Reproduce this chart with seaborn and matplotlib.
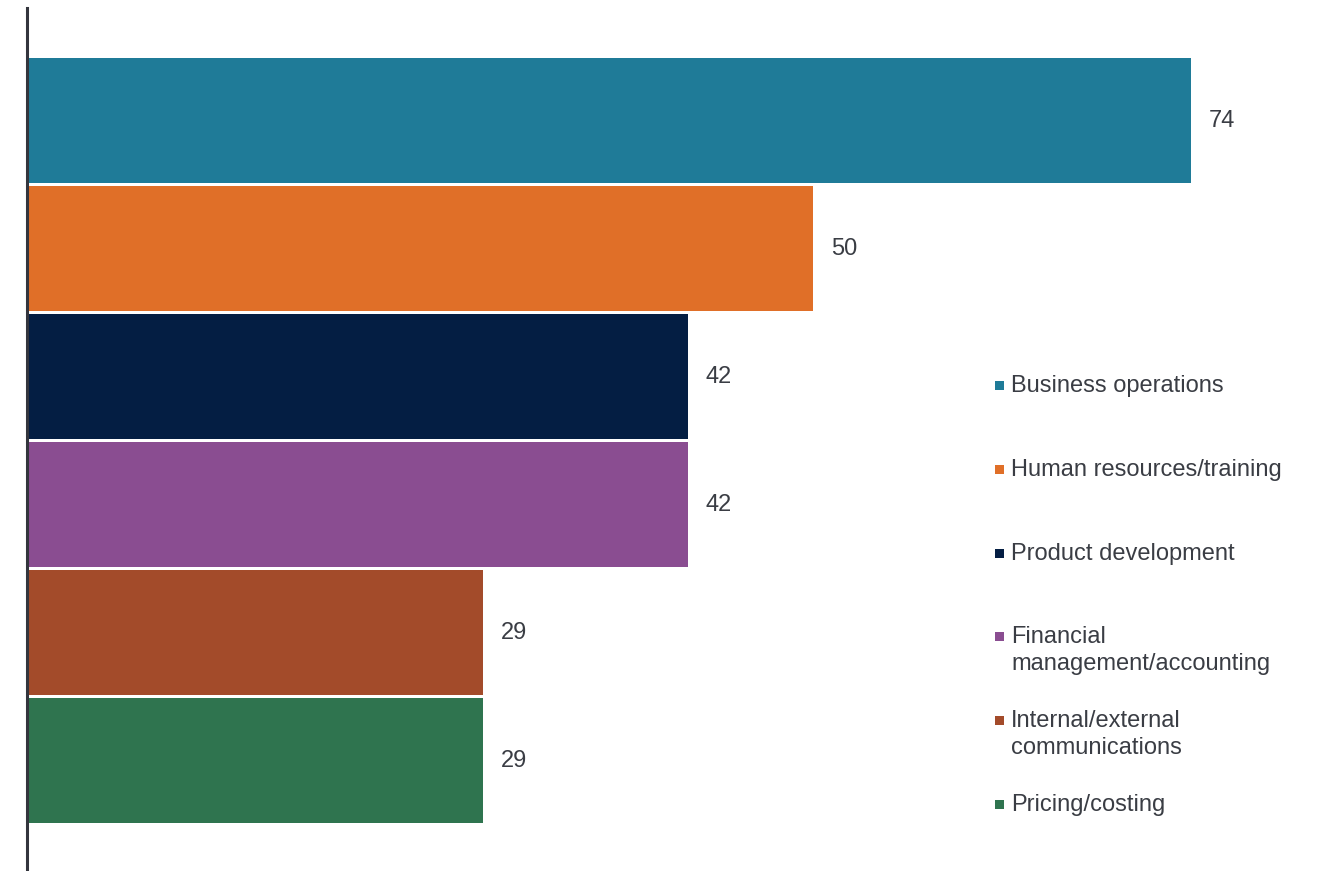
import matplotlib
matplotlib.use("Agg")
import matplotlib.pyplot as plt
import seaborn as sns
import pandas as pd
from matplotlib.patches import Rectangle

categories = [
    "Business operations",
    "Human resources/training",
    "Product development",
    "Financial\nmanagement/accounting",
    "Internal/external\ncommunications",
    "Pricing/costing",
]
values = [74, 50, 42, 42, 29, 29]
colors = ["#1F7B98", "#E06F28", "#041E43", "#8A4D91", "#A34B2A", "#2F744F"]

sns.set_theme(style="white")
plt.rcParams["font.family"] = ["Liberation Sans", "DejaVu Sans"]

text_color = "#3A3D44"
font_size = 17

fig = plt.figure(figsize=(13.19, 8.71), dpi=100)
W, H = 1319, 871
ax = fig.add_axes([27 / W, 0, (W - 27) / W, (H - 8) / H])

df = pd.DataFrame({"category": categories, "value": values})
sns.barplot(
    data=df, x="value", y="category", hue="category", palette=colors,
    orient="h", width=0.977, ax=ax, legend=False, saturation=1,
    edgecolor="none", linewidth=0,
)

# Scale: the longest bar ends ~1191 px from the left edge
ax.set_xlim(0, 74 * (W - 27) / (1191 - 27))
ax.set_ylim(5.86, -0.88)

for i, v in enumerate(values):
    ax.annotate(str(v), xy=(v, i), xytext=(13, 0), textcoords="offset points",
                ha="left", va="center", fontsize=font_size, color=text_color)

ax.set_xlabel("")
ax.set_ylabel("")
ax.set_xticks([])
ax.set_yticks([])
for side in ["top", "right", "bottom"]:
    ax.spines[side].set_visible(False)
ax.spines["left"].set_color("#33353D")
ax.spines["left"].set_linewidth(2.2)

# Legend: square swatches with labels to their right, one baseline per line
leg_baselines = [392, 476, 560, 643, 727, 811]
line_gap = 27
for base, lab, c in zip(leg_baselines, categories, colors):
    fig.patches.append(Rectangle((995 / W, 1 - (base - 2) / H), 9 / W, 9 / H,
                                 transform=fig.transFigure, facecolor=c,
                                 edgecolor="none"))
    for k, line in enumerate(lab.split("\n")):
        fig.text(1011 / W, 1 - (base + k * line_gap) / H, line, ha="left",
                 va="baseline", fontsize=font_size, color=text_color)

fig.savefig("out.png", dpi=100)
